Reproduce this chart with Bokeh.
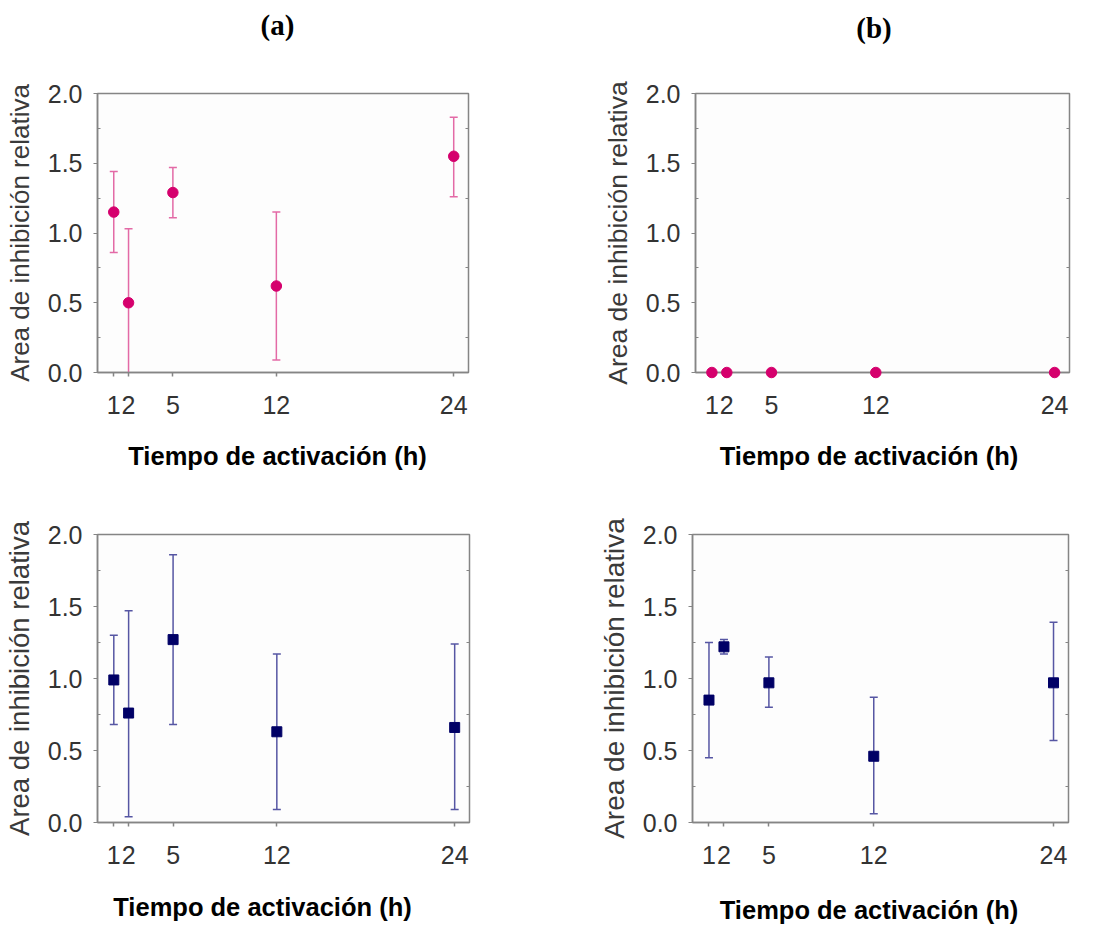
from bokeh.plotting import figure
from bokeh.models import Range1d, FixedTicker, LinearAxis, CustomJSTickFormatter
from bokeh.core.properties import value
from bokeh.layouts import column, row
from bokeh.embed import file_html
from bokeh.resources import INLINE

# ---- data ----
hours = [1, 2, 5, 12, 24]
hour_labels = ["1", "2", "5", "12", "24"]
y_ticks = [0.0, 0.5, 1.0, 1.5, 2.0]
y_tick_labels = ["0.0", "0.5", "1.0", "1.5", "2.0"]
y_minor = [0.25, 0.75, 1.25, 1.75]

a_top_mean = [1.15, 0.50, 1.29, 0.62, 1.55]
a_top_lo = [0.86, -0.05, 1.11, 0.09, 1.26]
a_top_hi = [1.44, 1.03, 1.47, 1.15, 1.83]

b_top_mean = [0.0, 0.0, 0.0, 0.0, 0.0]

a_bot_mean = [0.99, 0.76, 1.27, 0.63, 0.66]
a_bot_lo = [0.68, 0.04, 0.68, 0.09, 0.09]
a_bot_hi = [1.30, 1.47, 1.86, 1.17, 1.24]

b_bot_mean = [0.85, 1.22, 0.97, 0.46, 0.97]
b_bot_lo = [0.45, 1.17, 0.80, 0.06, 0.57]
b_bot_hi = [1.25, 1.27, 1.15, 0.87, 1.39]

x_title = "Tiempo de activación (h)"
y_title = "Area de inhibición relativa"
panel_titles = ["(a)", "(b)"]

X_LO, X_HI = -0.1, 25.0
Y_LO, Y_HI = 0.0, 2.0
X_MID = (X_LO + X_HI) / 2

PINK = "#d5006d"
PINK_BAR = "#e36aa6"
NAVY = "#000066"
NAVY_BAR = "#5656a3"
AXIS = "#858585"


def make_panel(width, height, mbl, mbr, mbt, mbb, ylab_size,
               xlab_dx, xlab_dy, title=None, title_dx=0, title_dy=0):
    p = figure(width=width, height=height,
               x_range=Range1d(X_LO, X_HI), y_range=Range1d(Y_LO, Y_HI),
               output_backend="svg", toolbar_location=None,
               min_border_left=mbl, min_border_right=mbr,
               min_border_top=mbt, min_border_bottom=mbb)
    p.grid.visible = False
    p.background_fill_color = "#fdfdfd"
    p.border_fill_color = "white"
    p.outline_line_color = AXIS
    p.outline_line_width = 1.5

    xa = p.xaxis[0]
    xa.ticker = FixedTicker(ticks=hours)
    xa.major_label_overrides = {h: l for h, l in zip(hours, hour_labels)}
    xa.major_label_text_font = "Liberation Sans"
    xa.major_label_text_font_size = "25px"
    xa.major_label_text_color = "#333333"
    xa.major_label_standoff = 19
    xa.major_tick_out = 4
    xa.major_tick_in = 0
    xa.minor_tick_out = 0
    xa.axis_line_color = AXIS
    xa.axis_line_width = 1.5
    xa.major_tick_line_color = AXIS
    xa.major_tick_line_width = 1.5

    ya = p.yaxis[0]
    ya.ticker = FixedTicker(ticks=y_ticks, minor_ticks=y_minor)
    ya.major_label_overrides = {t: l for t, l in zip(y_ticks, y_tick_labels)}
    ya.major_label_text_font = "Liberation Sans"
    ya.major_label_text_font_size = "25px"
    ya.major_label_text_color = "#333333"
    ya.major_label_standoff = 11
    ya.major_tick_out = 4
    ya.major_tick_in = 0
    ya.minor_tick_in = 3
    ya.minor_tick_out = 0
    ya.axis_line_color = AXIS
    ya.axis_line_width = 1.5
    ya.major_tick_line_color = AXIS
    ya.minor_tick_line_color = AXIS
    ya.axis_label = y_title
    ya.axis_label_text_font = "Liberation Sans"
    ya.axis_label_text_font_style = "normal"
    ya.axis_label_text_font_size = ylab_size
    ya.axis_label_text_color = "#3a3a3a"
    ya.axis_label_standoff = 10

    ra = LinearAxis(ticker=FixedTicker(ticks=y_ticks, minor_ticks=y_minor),
                    formatter=CustomJSTickFormatter(code="return ''"))
    ra.major_tick_in = 0
    ra.major_tick_out = 0
    ra.minor_tick_in = 3
    ra.minor_tick_out = 0
    ra.axis_line_color = None
    ra.minor_tick_line_color = AXIS
    ra.major_label_standoff = 0
    p.add_layout(ra, "right")

    xl = p.text(x=[X_MID], y=[Y_LO], text=[x_title],
                x_offset=xlab_dx, y_offset=xlab_dy,
                text_align="center", text_baseline="middle",
                text_font=value("Liberation Sans"),
                text_font_style=value("bold"),
                text_font_size=value("25.5px"), text_color="black")
    xl.level = "overlay"

    if title is not None:
        tl = p.text(x=[X_MID], y=[Y_HI], text=[title],
                    x_offset=title_dx, y_offset=title_dy,
                    text_align="center", text_baseline="middle",
                    text_font=value("Liberation Serif"),
                    text_font_style=value("bold"),
                    text_font_size=value("29px"), text_color="black")
        tl.level = "overlay"
    return p


def add_errbars(p, x, lo, hi, color):
    p.segment(x0=x, y0=lo, x1=x, y1=hi, line_color=color, line_width=1.5)
    p.scatter(x=x, y=lo, marker="dash", size=8, line_color=color, line_width=1.5)
    p.scatter(x=x, y=hi, marker="dash", size=8, line_color=color, line_width=1.5)


# (a) top
p1 = make_panel(548, 470, 97, 80, 93, 98, "26px", -5.5, 83,
                panel_titles[0], -5.5, -69)
add_errbars(p1, hours, a_top_lo, a_top_hi, PINK_BAR)
p1.scatter(x=hours, y=a_top_mean, marker="circle", size=10.5,
           fill_color=PINK, line_color=PINK)

# (b) top
p2 = make_panel(547, 470, 147, 26, 90, 98, "26.5px", -13.5, 83,
                panel_titles[1], -8.5, -66)
r = p2.scatter(x=hours, y=b_top_mean, marker="circle", size=10.5,
               fill_color=PINK, line_color=PINK)
r.level = "overlay"

# (a) bottom
p3 = make_panel(548, 454, 97, 79, 64, 96, "27.5px", -21, 84)
add_errbars(p3, hours, a_bot_lo, a_bot_hi, NAVY_BAR)
p3.scatter(x=hours, y=a_bot_mean, marker="square", size=10,
           fill_color=NAVY, line_color=NAVY)

# (b) bottom
p4 = make_panel(547, 454, 144, 27, 57, 102, "28px", -11.5, 87)
add_errbars(p4, hours, b_bot_lo, b_bot_hi, NAVY_BAR)
p4.scatter(x=hours, y=b_bot_mean, marker="square", size=10,
           fill_color=NAVY, line_color=NAVY)

layout = column(row(p1, p2), row(p3, p4))
open("out.html", "w").write(file_html(layout, INLINE))
